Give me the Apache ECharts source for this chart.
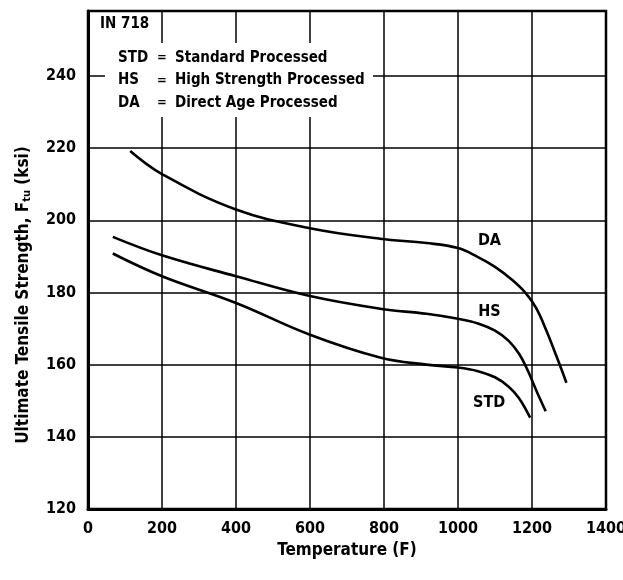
<!DOCTYPE html>
<html>
<head>
<meta charset="utf-8">
<script src="https://cdn.jsdelivr.net/npm/echarts@6/dist/echarts.min.js"></script>
<style>
  html, body { margin: 0; padding: 0; background: #fff; }
  #chart { width: 623px; height: 580px; }
</style>
</head>
<body>
<div id="chart"></div>
<script>
// IN 718 ultimate tensile strength vs. temperature, three processing routes
const daTemp  = [114, 200, 400, 600, 789, 915, 1000, 1054, 1100, 1146, 1183, 1211, 1239, 1267, 1293];
const daKsi   = [219.2, 212.8, 203.0, 197.8, 194.9, 193.7, 192.3, 189.8, 187.1, 183.5, 179.8, 175.7, 169.4, 162.1, 155.0];

const hsTemp  = [67, 200, 400, 600, 789, 915, 1000, 1054, 1100, 1137, 1165, 1188, 1211, 1237];
const hsKsi   = [195.4, 190.3, 184.5, 179.0, 175.5, 174.1, 172.7, 171.4, 169.4, 166.6, 163.0, 158.5, 153.0, 147.1];

const stdTemp = [67, 200, 400, 600, 789, 915, 1000, 1054, 1100, 1137, 1165, 1195];
const stdKsi  = [190.8, 184.5, 177.1, 168.3, 162.0, 160.0, 159.2, 158.2, 156.5, 153.9, 150.7, 145.3];

const xTicks = [0, 200, 400, 600, 800, 1000, 1200, 1400];
const yTicks = [120, 140, 160, 180, 200, 220, 240];

const legendRows = [
  ['STD', 'Standard Processed'],
  ['HS', 'High Strength Processed'],
  ['DA', 'Direct Age Processed']
];
const alloyName = 'IN 718';

const FONT = "'Liberation Sans Narrow', 'DejaVu Sans Condensed', 'Liberation Sans', sans-serif";

function pairs(xs, ys) { return xs.map((x, i) => [x, ys[i]]); }

function curve(name, xs, ys, labelAt) {
  return {
    name: name,
    type: 'line',
    data: pairs(xs, ys),
    smooth: 0.4,
    showSymbol: false,
    lineStyle: { color: '#000', width: 2.6 },
    z: 3,
    markPoint: {
      symbol: 'circle',
      symbolSize: 0,
      data: [{ coord: labelAt, value: name }],
      label: {
        show: true, position: 'inside', formatter: name,
        color: '#000', fontFamily: FONT, fontWeight: 'bold', fontSize: 16
      }
    }
  };
}

const chart = echarts.init(document.getElementById('chart'), null, { renderer: 'canvas' });

const graphicEls = [
  // white panel holding the key, drawn over the grid lines
  { type: 'rect', z: 5, shape: { x: 105, y: 43, width: 268, height: 74 }, style: { fill: '#fff' } },
  { type: 'text', z: 6, left: 100, top: 17,
    style: { text: alloyName, font: "bold 15px " + FONT, fill: '#000' } }
];
legendRows.forEach((row, i) => {
  const cy = 58 + i * 22.5;
  graphicEls.push({ type: 'text', z: 6, x: 118, y: cy,
    style: { text: row[0], font: "bold 15px " + FONT, fill: '#000', verticalAlign: 'middle' } });
  graphicEls.push({ type: 'text', z: 6, x: 157, y: cy,
    style: { text: '=', font: "bold 13px " + FONT, fill: '#000', verticalAlign: 'middle' } });
  graphicEls.push({ type: 'text', z: 6, x: 175, y: cy,
    style: { text: row[1], font: "bold 15px " + FONT, fill: '#000', verticalAlign: 'middle' } });
});

chart.setOption({
  animation: false,
  backgroundColor: '#fff',
  grid: {
    left: 88, right: 17, top: 11, bottom: 71,
    outerBoundsMode: 'none',
    show: true, borderColor: '#000', borderWidth: 2.5, backgroundColor: 'transparent'
  },
  xAxis: {
    type: 'value',
    min: xTicks[0], max: xTicks[xTicks.length - 1], interval: 200,
    name: 'Temperature (F)',
    nameLocation: 'middle',
    nameGap: 25,
    nameTextStyle: { color: '#000', fontFamily: FONT, fontWeight: 'bold', fontSize: 17, verticalAlign: 'top' },
    axisLine: { show: true, lineStyle: { color: '#000', width: 3 } },
    axisTick: { show: false },
    axisLabel: {
      color: '#000', fontFamily: FONT, fontWeight: 'bold', fontSize: 16, margin: 12,
      formatter: v => String(v)
    },
    splitLine: { show: true, lineStyle: { color: '#000', width: 1.5 } }
  },
  yAxis: {
    type: 'value',
    min: yTicks[0], max: 258, interval: 20,
    name: 'Ultimate Tensile Strength, F{sub|tu} (ksi)',
    nameLocation: 'middle',
    nameRotate: 90,
    nameGap: 55,
    nameTextStyle: {
      color: '#000', fontFamily: FONT, fontWeight: 'bold', fontSize: 17,
      padding: [0, 70, 0, 0],
      rich: {
        sub: { color: '#000', fontFamily: FONT, fontWeight: 'bold', fontSize: 11, padding: [8, 0, 0, 0] }
      }
    },
    axisLine: { show: true, lineStyle: { color: '#000', width: 3 } },
    axisTick: { show: false },
    axisLabel: {
      color: '#000', fontFamily: FONT, fontWeight: 'bold', fontSize: 16, margin: 12,
      showMaxLabel: false,
      formatter: v => (yTicks.indexOf(v) >= 0 ? String(v) : '')
    },
    splitLine: { show: true, lineStyle: { color: '#000', width: 1.5 } }
  },
  series: [
    curve('DA', daTemp, daKsi, [1085, 194.4]),
    curve('HS', hsTemp, hsKsi, [1085, 174.6]),
    curve('STD', stdTemp, stdKsi, [1084, 149.4])
  ],
  graphic: graphicEls
});
</script>
</body>
</html>
